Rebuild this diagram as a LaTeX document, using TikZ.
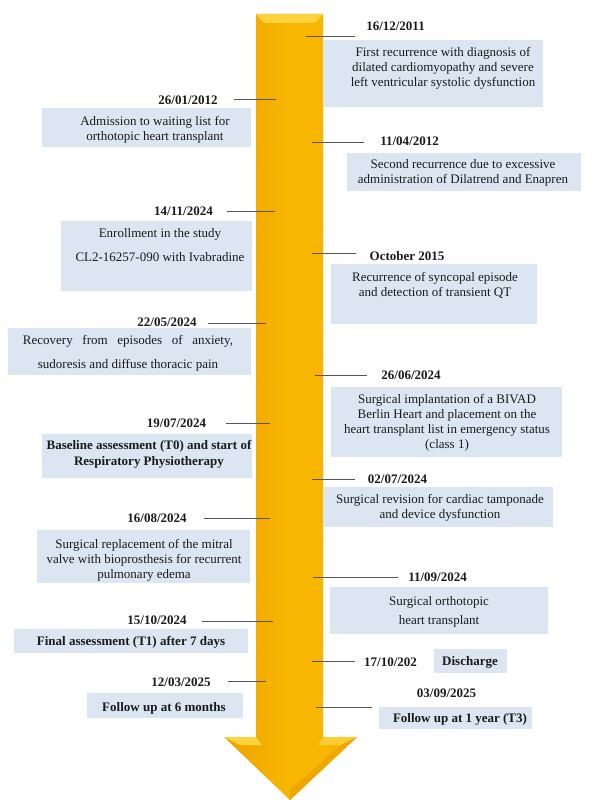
\documentclass[tikz,border=0pt]{standalone}
\usepackage{fontspec}
\setmainfont{Liberation Serif}
\definecolor{arrowgold}{HTML}{F8B600}
\definecolor{arrowdark}{HTML}{EEA400}
\definecolor{arrowlight}{HTML}{FFD240}
\definecolor{boxblue}{HTML}{DCE6F2}
\definecolor{tickgray}{HTML}{555555}
\definecolor{inkgray}{HTML}{1A1A1A}
\tikzset{
  datelabel/.style={font=\fontsize{13}{15}\selectfont\bfseries, text=inkgray, inner sep=0pt},
  eventtext/.style={font=\fontsize{13}{15}\selectfont, text=inkgray, align=center, inner sep=0pt},
  eventbold/.style={eventtext, font=\fontsize{13}{16}\selectfont\bfseries},
  eventbox/.style={fill=boxblue},
  tickline/.style={draw=tickgray, line width=0.8pt}
}
\begin{document}
\begin{tikzpicture}[x=1pt, y=-1pt]
  \useasboundingbox (0,0) rectangle (597,800);
  % big golden arrow (time axis)
  \shade[left color=arrowdark, right color=arrowgold, middle color=arrowgold]
    (256,14) -- (323,14) -- (323,737) -- (357,737) -- (290,800) -- (224,737) -- (256,737) -- cycle;
  % bevels
  \fill[arrowlight] (256,14) -- (323,14) -- (315,23) -- (264,23) -- cycle;
  \fill[arrowlight] (224,737) -- (256,737) -- (262,745) -- (240,745) -- cycle;
  \fill[arrowlight!80!arrowgold] (323,737) -- (357,737) -- (341,745) -- (318,745) -- cycle;
  \fill[arrowdark!90!arrowgold] (357,737) -- (290,800) -- (290,790) -- (341,745) -- cycle;

  % event boxes, left side
  \fill[eventbox] (42,108) rectangle (251,147);
  \fill[eventbox] (61,221) rectangle (252,291);
  \fill[eventbox] (8,328) rectangle (251,375);
  \fill[eventbox] (42,434) rectangle (252,478);
  \fill[eventbox] (37,530) rectangle (250,583);
  \fill[eventbox] (14,629) rectangle (248,653);
  \fill[eventbox] (87,693) rectangle (243,718);
  % event boxes, right side
  \fill[eventbox] (323,40) rectangle (543,107);
  \fill[eventbox] (347,153) rectangle (581,191);
  \fill[eventbox] (331,264) rectangle (537,324);
  \fill[eventbox] (331,387) rectangle (562,457);
  \fill[eventbox] (323,487) rectangle (553,527);
  \fill[eventbox] (330,587) rectangle (548,634);
  \fill[eventbox] (434,649) rectangle (507,673);
  \fill[eventbox] (379,707) rectangle (532,729);

  % dates, left side
  \node[datelabel] (dL1) at (188,100) {26/01/2012};
  \node[datelabel] (dL2) at (183.5,211) {14/11/2024};
  \node[datelabel] (dL3) at (167,322) {22/05/2024};
  \node[datelabel] (dL4) at (176.5,423) {19/07/2024};
  \node[datelabel] (dL5) at (157,518) {16/08/2024};
  \node[datelabel] (dL6) at (157,620) {15/10/2024};
  \node[datelabel] (dL7) at (181,682) {12/03/2025};
  % dates, right side
  \node[datelabel] (dR1) at (395.5,26) {16/12/2011};
  \node[datelabel] (dR2) at (409.5,141) {11/04/2012};
  \node[datelabel] (dR3) at (407,256) {October 2015};
  \node[datelabel] (dR4) at (411,375) {26/06/2024};
  \node[datelabel] (dR5) at (397.5,479) {02/07/2024};
  \node[datelabel] (dR6) at (437.5,577) {11/09/2024};
  \node[datelabel] (dR7) at (390.5,662) {17/10/202};
  \node[datelabel] (dR8) at (446.5,693) {03/09/2025};

  % event texts, left side
  \node[eventtext] (eL1) at (155,129.5) {Admission to waiting list for\\orthotopic heart transplant};
  \node[eventtext] (eL2) at (160,245) {Enrollment in the study\\[9pt]CL2-16257-090 with Ivabradine};
  \node[eventtext] (eL3) at (128,353) {\makebox[210pt][s]{Recovery from episodes of anxiety,}\\[9pt]sudoresis and diffuse thoracic pain};
  \node[eventbold] (eL4) at (149,454) {Baseline assessment (T0) and start of\\Respiratory Physiotherapy};
  \node[eventtext] (eL5) at (144,560) {Surgical replacement of the mitral\\valve with bioprosthesis for recurrent\\pulmonary edema};
  \node[eventbold] (eL6) at (131,642) {Final assessment (T1) after 7 days};
  \node[eventbold] (eL7) at (164,708) {Follow up at 6 months};
  % event texts, right side
  \node[eventtext] (eR1) at (443,68) {First recurrence with diagnosis of\\dilated cardiomyopathy and severe\\left ventricular systolic dysfunction};
  \node[eventtext] (eR2) at (463,173) {Second recurrence due to excessive\\administration of Dilatrend and Enapren};
  \node[eventtext] (eR3) at (435,285.5) {Recurrence of syncopal episode\\and detection of transient QT};
  \node[eventtext] (eR4) at (447,423) {Surgical implantation of a BIVAD\\Berlin Heart and placement on the\\heart transplant list in emergency status\\(class 1)};
  \node[eventtext] (eR5) at (440,508) {Surgical revision for cardiac tamponade\\and device dysfunction};
  \node[eventtext] (eR6) at (439,611.5) {Surgical orthotopic\\[4pt]heart transplant};
  \node[eventbold] (eR7) at (470,662) {Discharge};
  \node[eventbold] (eR8) at (460,719) {Follow up at 1 year (T3)};

  % ticks from the dates to the arrow
  \coordinate (tL1a) at (234,99);  \coordinate (tL1b) at (276,99);
  \coordinate (tL2a) at (227,211); \coordinate (tL2b) at (275,211);
  \coordinate (tL3a) at (208,323); \coordinate (tL3b) at (266,323);
  \coordinate (tL4a) at (226,423); \coordinate (tL4b) at (270,423);
  \coordinate (tL5a) at (204,518); \coordinate (tL5b) at (270,518);
  \coordinate (tL6a) at (202,621); \coordinate (tL6b) at (273,621);
  \coordinate (tL7a) at (228,681); \coordinate (tL7b) at (266,681);
  \coordinate (tR1a) at (306,36);  \coordinate (tR1b) at (355,36);
  \coordinate (tR2a) at (312,142); \coordinate (tR2b) at (364,142);
  \coordinate (tR3a) at (312,253); \coordinate (tR3b) at (356,253);
  \coordinate (tR4a) at (315,375); \coordinate (tR4b) at (367,375);
  \coordinate (tR5a) at (312,479); \coordinate (tR5b) at (355,479);
  \coordinate (tR6a) at (313,577); \coordinate (tR6b) at (398,577);
  \coordinate (tR7a) at (312,661); \coordinate (tR7b) at (355,661);
  \coordinate (tR8a) at (316,707); \coordinate (tR8b) at (372,707);
  \foreach \t in {L1,L2,L3,L4,L5,L6,L7,R1,R2,R3,R4,R5,R6,R7,R8}
    \draw[tickline] (t\t a) -- (t\t b);
\end{tikzpicture}
\end{document}
